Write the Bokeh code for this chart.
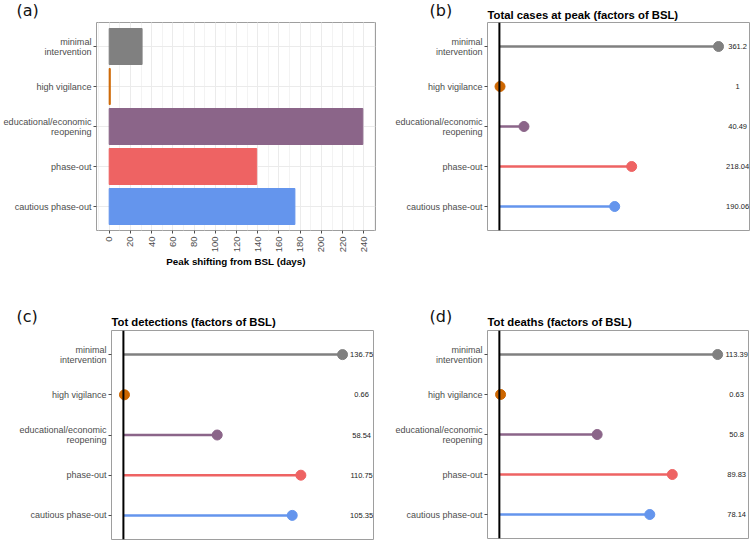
import math
from bokeh.plotting import figure
from bokeh.models import Range1d, FixedTicker, Span, ColumnDataSource
from bokeh.layouts import column, row
from bokeh.embed import file_html
from bokeh.resources import INLINE
from bokeh.core.properties import value

# ---------------- data ----------------
categories = ["minimal\nintervention", "high vigilance",
              "educational/economic\nreopening", "phase-out", "cautious phase-out"]
colors = ["#808080", "#CD6600", "#8B6589", "#EE6363", "#6495ED"]
peak_shift_days = [31, 1, 239, 139, 175]
total_cases = [361.2, 1, 40.49, 218.04, 190.06]
tot_detections = [136.75, 0.66, 58.54, 110.75, 105.35]
tot_deaths = [113.39, 0.63, 50.8, 89.83, 78.14]
x_ticks_a = list(range(0, 241, 20))
x_minor_a = list(range(-10, 251, 10))
tags_top = ["(a)", "(b)"]
tags_bottom = ["(c)", "(d)"]
title_b = "Total cases at peak (factors of BSL)"
title_c = "Tot detections (factors of BSL)"
title_d = "Tot deaths (factors of BSL)"

FONT = "Liberation Sans"
TAG_FONT = "DejaVu Sans"
ys = [len(categories) - i for i in range(len(categories))]
label_map = {y: c for y, c in zip(ys, categories)}
Y0, Y1 = 0.4, len(categories) + 0.6
PAGE_W = 750


def header(height, tags, tag_xs, tag_y, titles, title_xs, title_ys):
    """A full-width strip holding panel tags and titles, in pixel coordinates."""
    h = figure(width=PAGE_W, height=height, x_range=Range1d(0, PAGE_W), y_range=Range1d(height, 0),
               output_backend="svg", toolbar_location=None,
               min_border_left=0, min_border_right=0, min_border_top=0, min_border_bottom=0)
    h.axis.visible = False
    h.grid.visible = False
    h.outline_line_color = None
    h.background_fill_color = "white"
    h.border_fill_color = "white"
    h.text(x=tag_xs, y=[tag_y] * len(tags), text=tags, text_font=value(TAG_FONT),
           text_font_size="16px", text_color="#111111", text_baseline="middle", text_align="left")
    if titles:
        h.text(x=title_xs, y=title_ys, text=titles, text_font=value(FONT),
               text_font_size="11.3px", text_font_style="bold", text_color="black",
               text_baseline="middle", text_align="left")
    return h


def style_common(p, ylab_size):
    p.background_fill_color = "white"
    p.border_fill_color = "white"
    p.outline_line_color = "#9E9E9E"
    p.outline_line_width = 1
    p.yaxis.ticker = FixedTicker(ticks=ys)
    p.yaxis.major_label_overrides = label_map
    p.yaxis.major_label_text_font = FONT
    p.yaxis.major_label_text_font_size = ylab_size
    p.yaxis.major_label_text_color = "#4D4D4D"
    p.yaxis.major_label_text_line_height = 1.0
    p.yaxis.axis_line_color = None
    p.yaxis.major_tick_line_color = "#4D4D4D"
    p.yaxis.major_tick_out = 3
    p.yaxis.major_tick_in = 0
    p.yaxis.minor_tick_line_color = None
    p.yaxis.major_label_standoff = 2


# ---------------- panel (a) ----------------
xmax_a = max(peak_shift_days)
pa = figure(frame_width=279, frame_height=208,
            x_range=Range1d(-0.05 * xmax_a, 1.05 * xmax_a), y_range=Range1d(Y0, Y1),
            output_backend="svg", toolbar_location=None,
            min_border_left=96, min_border_right=5, min_border_top=1, min_border_bottom=40)
style_common(pa, "9.1px")
src_a = ColumnDataSource(dict(y=ys, right=peak_shift_days, color=colors))
pa.hbar(y="y", height=0.9, left=0, right="right", fill_color="color",
        line_color="color", line_width=1, source=src_a)
pa.xaxis.ticker = FixedTicker(ticks=x_ticks_a, minor_ticks=x_minor_a)
pa.xgrid.grid_line_color = "#EBEBEB"
pa.xgrid.minor_grid_line_color = "#F3F3F3"
pa.ygrid.grid_line_color = "#EBEBEB"
pa.xaxis.major_label_orientation = math.pi / 2
pa.xaxis.major_label_text_font = FONT
pa.xaxis.major_label_text_font_size = "9.5px"
pa.xaxis.major_label_text_color = "#4D4D4D"
pa.xaxis.axis_line_color = None
pa.xaxis.major_tick_line_color = "#4D4D4D"
pa.xaxis.major_tick_out = 3
pa.xaxis.major_tick_in = 0
pa.xaxis.minor_tick_line_color = None
pa.xaxis.major_label_standoff = 2
pa.xaxis.axis_label = "Peak shifting from BSL (days)"
pa.xaxis.axis_label_text_font = FONT
pa.xaxis.axis_label_text_font_size = "9.8px"
pa.xaxis.axis_label_text_font_style = "bold"
pa.xaxis.axis_label_text_color = "black"
pa.xaxis.axis_label_standoff = 1


# ---------------- lollipop panels ----------------
def lollipop(vals, border_l, border_r, border_t, border_b, frame_w, frame_h):
    label_x = max(vals) * 1.087
    p = figure(frame_width=frame_w, frame_height=frame_h,
               x_range=Range1d(-0.05 * label_x, 1.05 * label_x), y_range=Range1d(Y0, Y1),
               output_backend="svg", toolbar_location=None,
               min_border_left=border_l, min_border_right=border_r,
               min_border_top=border_t, min_border_bottom=border_b)
    style_common(p, "9px")
    p.grid.visible = False
    p.xaxis.visible = False
    src = ColumnDataSource(dict(y=ys, v=vals, color=colors,
                                lab=[f"{v:g}" for v in vals],
                                lx=[label_x] * len(vals)))
    p.segment(x0=0, y0="y", x1="v", y1="y", line_color="color", line_width=2.5, source=src)
    p.scatter(x="v", y="y", size=10, fill_color="color", line_color="color", source=src)
    p.add_layout(Span(location=0, dimension="height", line_color="black", line_width=2))
    p.text(x="lx", y="y", text="lab", text_align="center", text_baseline="middle",
           text_font=value(FONT), text_font_size="7.5px", text_color="#222222", source=src)
    return p


pb = lollipop(total_cases, 107, 1, 1, 40, 262, 208)
pc = lollipop(tot_detections, 111, 7, 1, 5, 262, 209)
pd = lollipop(tot_deaths, 107, 2, 2, 5, 261, 208)

h1 = header(21, tags_top, [16, 429], 10, [title_b], [487], [14])
h2 = header(58, tags_bottom, [16, 429], 46, [title_c, title_d], [111, 487], [51.5, 51])

layout = column(h1, row(pa, pb), h2, row(pc, pd))
open("out.html", "w").write(file_html(layout, INLINE))
